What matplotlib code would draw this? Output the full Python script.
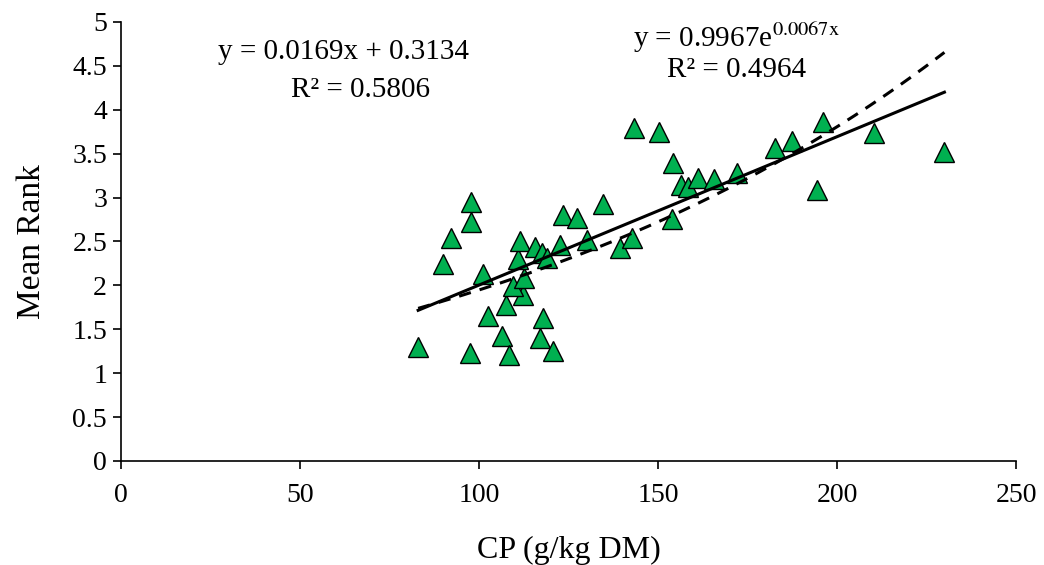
import numpy as np
import matplotlib
matplotlib.use("Agg")
import matplotlib.pyplot as plt

plt.rcParams['font.family'] = ['Liberation Serif', 'DejaVu Serif']
plt.rcParams['mathtext.fontset'] = 'stix'

# CP (g/kg DM) and mean rank
cp = [83.0, 90.0, 92.3, 97.7, 97.7, 97.5, 101.0, 102.6, 106.3, 108.4,
      107.5, 112.2, 109.6, 112.6, 110.8, 111.4, 115.6, 117.5, 118.9, 117.9,
      117.0, 120.7, 122.6, 123.5, 127.3, 130.1, 134.7, 139.4, 142.6, 153.8,
      156.3, 143.4, 150.4, 154.3, 158.4, 161.3, 165.5, 172.0, 182.8, 187.5,
      196.2, 210.2, 194.5, 230.0]
rank = [1.30, 2.24, 2.54, 2.95, 2.72, 1.23, 2.13, 1.65, 1.42, 1.21,
        1.78, 1.89, 1.99, 2.08, 2.30, 2.51, 2.44, 2.37, 2.31, 1.63,
        1.40, 1.25, 2.46, 2.80, 2.77, 2.52, 2.93, 2.43, 2.54, 2.76,
        3.14, 3.79, 3.75, 3.39, 3.12, 3.22, 3.21, 3.28, 3.56, 3.64,
        3.86, 3.73, 3.09, 3.52]

# trendline coefficients as printed on the chart
lin_a, lin_b = 0.0169, 0.3134
exp_a, exp_b = 0.9967, 0.0067

fig = plt.figure(figsize=(10.44, 5.65), dpi=100)
ax = fig.add_axes([0.1159, 0.1841, 0.8573, 0.777])

ax.plot(cp, rank, linestyle='none', marker='^', markersize=15,
        markerfacecolor='#00B050', markeredgecolor='black', markeredgewidth=1.0, zorder=2)

xs = np.linspace(min(cp), max(cp), 200)
ax.plot(xs, lin_a * xs + lin_b, color='black', linewidth=2.2, zorder=3)
ax.plot(xs, exp_a * np.exp(exp_b * xs), color='black', linewidth=2.2,
        linestyle=(0, (4, 3)), zorder=3)

ax.set_xlim(0, 250)
ax.set_ylim(0, 5)
ax.set_xticks(np.arange(0, 251, 50))
ax.set_yticks(np.arange(0, 5.01, 0.5))
ax.set_yticklabels(['0', '0.5', '1', '1.5', '2', '2.5', '3', '3.5', '4', '4.5', '5'])
ax.spines['top'].set_visible(False)
ax.spines['right'].set_visible(False)
ax.spines['left'].set_linewidth(1.2)
ax.spines['bottom'].set_linewidth(1.2)
ax.tick_params(axis='both', direction='out', length=6, width=1.2, labelsize=20)
ax.tick_params(axis='x', pad=10)
ax.tick_params(axis='y', pad=4)

ax.set_xlabel('CP (g/kg DM)', fontsize=23, labelpad=20)
ax.set_ylabel('Mean Rank', fontsize=24, labelpad=18)

ax.text(0.249, 0.932, 'y = 0.0169x + 0.3134', transform=ax.transAxes,
        ha='center', va='center', fontsize=21)
ax.text(0.268, 0.845, 'R² = 0.5806', transform=ax.transAxes,
        ha='center', va='center', fontsize=21)
ax.text(0.688, 0.964, 'y = 0.9967e$^{0.0067\\mathrm{x}}$', transform=ax.transAxes,
        ha='center', va='center', fontsize=21)
ax.text(0.688, 0.891, 'R² = 0.4964', transform=ax.transAxes,
        ha='center', va='center', fontsize=21)

fig.savefig('out.png', dpi=100)
